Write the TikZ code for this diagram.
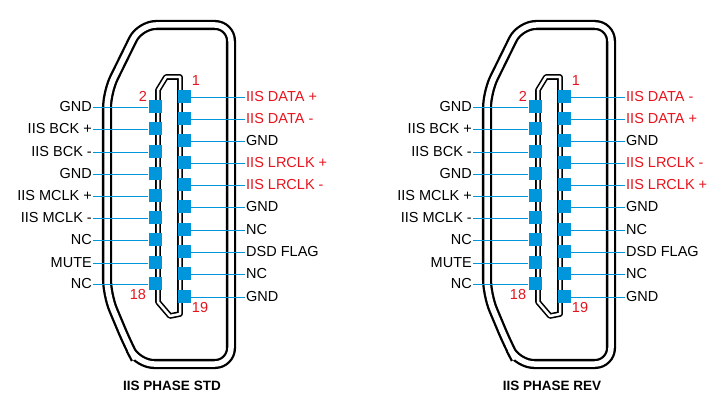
\documentclass[tikz,border=0pt]{standalone}
\usepackage{fontspec}
\setmainfont{Liberation Sans}
\begin{document}
\begin{tikzpicture}[x=1pt,y=-1pt,
  pin/.style={fill=pinblue,draw=none,minimum size=13pt,inner sep=0pt},
  wire/.style={draw=pinblue,line width=0.9pt},
  lbl/.style={font=\fontsize{14.5}{14.5}\selectfont,inner sep=1pt},
  red/.style={text=pinred},
  num/.style={font=\fontsize{14.5}{14.5}\selectfont,text=pinred,inner sep=0pt},
  shell/.style={draw=black,double=white,double distance=5.5pt,line width=2.3pt,rounded corners=16pt},
  slot/.style={draw=black,double=white,double distance=2.5pt,line width=1.6pt,line join=round},
  title/.style={font=\bfseries\fontsize{13.5}{13.5}\selectfont}]
\definecolor{pinblue}{RGB}{0,150,220}
\definecolor{pinred}{RGB}{230,20,30}
\useasboundingbox (0,0) rectangle (725,411);
\foreach \ox/\nm/\la/\lb/\lc/\ld in {0/std/IIS DATA +/IIS DATA -/IIS LRCLK +/IIS LRCLK -, 380/rev/IIS DATA -/IIS DATA +/IIS LRCLK -/IIS LRCLK +}{
 \begin{scope}[xshift=\ox]
  \draw[shell] (107,190) -- (107,295) -- (128,345) -- (138,364) -- (231,364) -- (231,25) -- (140,25) -- (107,92) -- (107,190);
  \draw[slot] (158,90) -- (166,77) -- (180,77) -- (180,314) -- (170,316) -- (158,302) -- cycle;
  \foreach \i/\y/\t in {1/107/GND,2/129/IIS BCK +,3/152/IIS BCK -,4/174/GND,5/196/IIS MCLK +,6/218/IIS MCLK -,7/240/NC,8/263/MUTE,9/284/NC}{
    \node[pin] (L\nm\i) at (155,\y) {};
    \node[lbl,anchor=east] (LT\nm\i) at (93,\y) {\t};
    \draw[wire] (LT\nm\i.east) -- (L\nm\i.west);
  }
  \foreach \i/\y/\t/\s in {1/97/\la/red,2/119/\lb/red,3/141/GND/,4/163/\lc/red,5/185/\ld/red,6/207/GND/,7/230/NC/,8/252/DSD FLAG/,9/274/NC/,10/297/GND/}{
    \node[pin] (R\nm\i) at (184,\y) {};
    \node[lbl,anchor=west,\s] (RT\nm\i) at (245,\y) {\t};
    \draw[wire] (R\nm\i.east) -- (RT\nm\i.west);
  }
  \node[num] (n1\nm) at (196,81) {1};
  \node[num] (n2\nm) at (143,96) {2};
  \node[num] (n18\nm) at (138,295) {18};
  \node[num] (n19\nm) at (200,308) {19};
 \end{scope}
}
\node[title] (t1) at (172,386) {IIS PHASE STD};
\node[title] (t2) at (552,386) {IIS PHASE REV};
\end{tikzpicture}
\end{document}
